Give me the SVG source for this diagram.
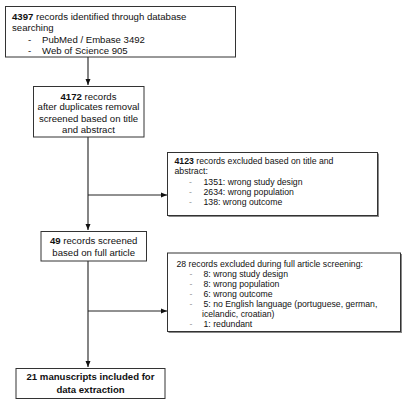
<svg xmlns="http://www.w3.org/2000/svg" width="407" height="405" viewBox="0 0 407 405">
<defs>
<marker id="ah" viewBox="0 0 6 6" refX="6" refY="3" markerWidth="6" markerHeight="6" markerUnits="userSpaceOnUse" orient="auto">
<path d="M0,0.5 L6,3 L0,5.5 z" fill="#111"/>
</marker>
<style>
.box{fill:#fff;stroke:#333;stroke-width:1}
.shadow{fill:#888}
text{font-family:"Liberation Sans",Arial,sans-serif;fill:#111}
.m{font-size:9.6px}
.s{font-size:8.7px}
.c{text-anchor:middle}
.b{font-weight:bold}
.dash{fill:#999}
.vline{stroke:#666;stroke-width:1.6;fill:none}
.hline{stroke:#222;stroke-width:1;fill:none}
</style>
</defs>
<rect width="407" height="405" fill="#fff"/>
<g id="connectors">
<line class="vline" x1="88" y1="57" x2="88" y2="85" marker-end="url(#ah)"/>
<line class="vline" x1="88" y1="137" x2="88" y2="230" marker-end="url(#ah)"/>
<line class="hline" x1="88" y1="195" x2="167" y2="195" marker-end="url(#ah)"/>
<line class="vline" x1="88" y1="261" x2="88" y2="367" marker-end="url(#ah)"/>
<line class="hline" x1="88" y1="311" x2="167" y2="311" marker-end="url(#ah)"/>
</g>
<g id="identified">
<rect class="box" x="5.5" y="6.5" width="230" height="50.5"/>
<text class="m" x="12" y="20"><tspan class="b">4397</tspan> records identified through database</text>
<text class="m" x="12" y="31">searching</text>
<text class="m" x="28" y="42.5">-</text>
<text class="m" x="42" y="42.5">PubMed / Embase 3492</text>
<text class="m" x="28" y="54">-</text>
<text class="m" x="42" y="54">Web of Science 905</text>
</g>
<g id="screened">
<rect class="box" x="33.5" y="86.5" width="110.5" height="50.5"/>
<text class="m c" x="88.5" y="99.5"><tspan class="b">4172</tspan> records</text>
<text class="m c" x="88.5" y="110">after duplicates removal</text>
<text class="m c" x="88.5" y="121.5">screened based on title</text>
<text class="m c" x="88.5" y="133">and abstract</text>
</g>
<g id="excluded1">
<rect class="shadow" x="168.5" y="153.5" width="210.5" height="63.5"/>
<rect class="box" x="167.5" y="152.5" width="210" height="63"/>
<text class="s" x="174.5" y="164"><tspan class="b">4123</tspan> records excluded based on title and</text>
<text class="s" x="174.5" y="174">abstract:</text>
<text class="s dash" x="189" y="185">-</text>
<text class="s" x="203.5" y="185">1351: wrong study design</text>
<text class="s dash" x="189" y="195">-</text>
<text class="s" x="203.5" y="195">2634: wrong population</text>
<text class="s dash" x="189" y="205">-</text>
<text class="s" x="203.5" y="205">138: wrong outcome</text>
</g>
<g id="fulltext">
<rect class="box" x="41" y="231.5" width="105.5" height="29.5"/>
<text class="m c" x="93.7" y="244"><tspan class="b">49</tspan> records screened</text>
<text class="m c" x="93.7" y="255.5">based on full article</text>
</g>
<g id="excluded2">
<rect class="shadow" x="168.5" y="254" width="233.5" height="79"/>
<rect class="box" x="167.5" y="253" width="233" height="78.5"/>
<text class="s" x="176.5" y="266.5">28 records excluded during full article screening:</text>
<text class="s dash" x="189.5" y="276.5">-</text>
<text class="s" x="203.5" y="276.5">8: wrong study design</text>
<text class="s dash" x="189.5" y="286.5">-</text>
<text class="s" x="203.5" y="286.5">8: wrong population</text>
<text class="s dash" x="189.5" y="296.5">-</text>
<text class="s" x="203.5" y="296.5">6: wrong outcome</text>
<text class="s dash" x="189.5" y="306.5">-</text>
<text class="s" x="203.5" y="306.5">5: no English language (portuguese, german,</text>
<text class="s" x="202" y="316.5">icelandic, croatian)</text>
<text class="s dash" x="189.5" y="326.5">-</text>
<text class="s" x="203.5" y="326.5">1: redundant</text>
</g>
<g id="included">
<rect class="box" x="16" y="368.5" width="149" height="30"/>
<text class="m c b" x="90.5" y="380">21 manuscripts included for</text>
<text class="m c b" x="90.5" y="393">data extraction</text>
</g>
</svg>
